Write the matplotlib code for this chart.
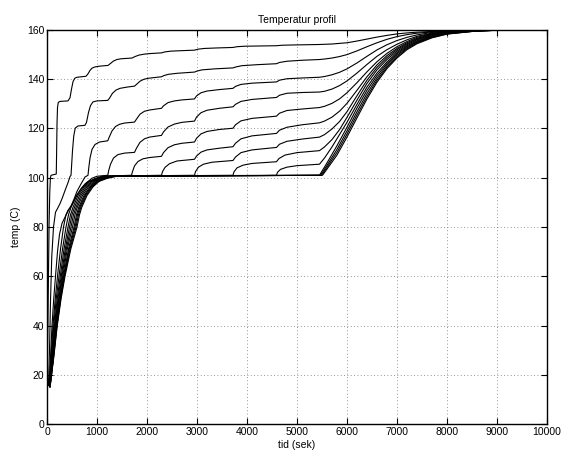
#!/usr/bin/env python3
"""Temperature profile plot (Temperatur profil).

Each curve is one node in the material; values are read off the
reference figure as (time [s], temperature [C]) pairs.
"""

import matplotlib
matplotlib.use("Agg")
import matplotlib.pyplot as plt

# --- data: (tid [sek], temp [C]) ---
CURVE_1 = [(0, 18), (8, 24), (18, 40), (30, 62), (42, 82), (55, 94), (68, 100),
           (80, 101), (185, 101.5), (192, 110), (200, 122), (210, 128.5),
           (225, 130.6), (260, 131), (420, 131.2), (460, 132.5), (490, 136),
           (520, 139), (555, 140.4), (600, 140.8), (780, 141.2), (820, 142.2),
           (860, 143.6), (900, 144.5), (960, 145), (1050, 145.3), (1220, 145.6),
           (1270, 146.4), (1330, 147.4), (1400, 148), (1480, 148.3),
           (1700, 148.6), (1760, 149.2), (1840, 149.8), (1950, 150.2),
           (2050, 150.4), (2290, 150.7), (2360, 151.1), (2480, 151.4),
           (2700, 151.6), (2950, 151.8), (3020, 152.2), (3150, 152.5),
           (3400, 152.7), (3720, 152.9), (3800, 153.2), (3950, 153.4),
           (4590, 153.6), (4700, 153.8), (4900, 153.9), (5450, 154.1),
           (5700, 154.3), (6000, 154.8), (6200, 155.5), (6400, 156.3),
           (6600, 157.1), (6800, 157.8), (7000, 158.4), (7200, 158.8),
           (7400, 159.1), (7700, 159.4), (8000, 159.6), (8500, 159.8),
           (9000, 160), (10000, 160)]
CURVE_2 = [(0, 18), (30, 16.5), (50, 30), (70, 50), (95, 68), (130, 80),
           (170, 86), (210, 87.5), (260, 89.5), (310, 92), (360, 94.8),
           (420, 98), (460, 100.5), (480, 101), (492, 105), (510, 111),
           (535, 117), (565, 120.2), (620, 121), (760, 121.3), (790, 122.5),
           (830, 126.5), (870, 129.3), (920, 130.8), (1000, 131.2),
           (1215, 131.4), (1250, 132.3), (1310, 134.3), (1380, 135.6),
           (1460, 136.3), (1600, 136.8), (1750, 137.2), (1790, 137.9),
           (1860, 139.2), (1940, 140), (2030, 140.4), (2290, 141),
           (2340, 141.5), (2430, 142), (2600, 142.4), (2950, 142.9),
           (3000, 143.3), (3100, 143.8), (3350, 144.2), (3720, 144.6),
           (3780, 145), (3900, 145.5), (4200, 145.9), (4590, 146.3),
           (4650, 146.8), (4800, 147.3), (5100, 147.7), (5450, 148),
           (5550, 148.2), (5700, 148.6), (5850, 149.2), (6000, 150),
           (6200, 151.5), (6400, 153.2), (6600, 154.8), (6800, 156.2),
           (7000, 157.3), (7200, 158.1), (7400, 158.7), (7700, 159.2),
           (8000, 159.5), (8500, 159.8), (9000, 160), (10000, 160)]
CURVE_3 = [(0, 18), (40, 16), (70, 27), (100, 40), (135, 51), (170, 60),
           (210, 70), (250, 77), (300, 81.5), (360, 84), (430, 86.8),
           (490, 89), (540, 91.3), (600, 94.5), (680, 97.5), (760, 100.3),
           (820, 101), (835, 104), (860, 108), (900, 111.5), (960, 113.5),
           (1050, 114.5), (1215, 115), (1245, 116.5), (1300, 119),
           (1370, 120.8), (1450, 121.7), (1550, 122.2), (1750, 122.6),
           (1790, 123.8), (1860, 125.8), (1950, 127), (2050, 127.5),
           (2290, 128.2), (2330, 129.2), (2420, 130.5), (2550, 131.2),
           (2700, 131.6), (2950, 132), (2990, 133.2), (3080, 134.5),
           (3200, 135.2), (3450, 135.8), (3720, 136.3), (3770, 137.1),
           (3880, 137.9), (4100, 138.4), (4590, 138.9), (4650, 139.6),
           (4800, 140.2), (5100, 140.5), (5450, 140.8), (5550, 141.1),
           (5700, 141.8), (5850, 142.8), (6000, 144.2), (6200, 146.6),
           (6400, 149.3), (6600, 151.9), (6800, 154), (7000, 155.7),
           (7200, 157), (7400, 158), (7700, 159), (8000, 159.4),
           (8500, 159.8), (9000, 160), (10000, 160)]
CURVE_4 = [(0, 18), (40, 15.5), (80, 27), (120, 40), (165, 51), (210, 60),
           (270, 71), (330, 80), (380, 85), (420, 86.8), (480, 88.2),
           (530, 90), (600, 93), (680, 95.5), (760, 97.5), (820, 98.5),
           (900, 99.8), (1000, 100.6), (1215, 101), (1235, 103), (1270, 105.5),
           (1330, 108), (1420, 109.4), (1550, 110), (1750, 110.3),
           (1790, 112), (1860, 114.4), (1950, 115.8), (2050, 116.5),
           (2290, 117.2), (2330, 118.6), (2420, 120.6), (2550, 121.8),
           (2700, 122.5), (2950, 123), (2990, 124.6), (3080, 126.4),
           (3200, 127.4), (3450, 128.2), (3720, 128.8), (3770, 129.8),
           (3880, 131), (4100, 131.8), (4590, 132.6), (4650, 133.5),
           (4800, 134.3), (5100, 134.6), (5450, 134.8), (5550, 135.1),
           (5700, 136), (5850, 137.4), (6000, 139.3), (6200, 142.5),
           (6400, 146), (6600, 149.3), (6800, 152), (7000, 154.2),
           (7200, 156), (7400, 157.4), (7700, 158.7), (8000, 159.3),
           (8500, 159.8), (9000, 160), (10000, 160)]
CURVE_5 = [(0, 18), (45, 15.5), (90, 27), (135, 40), (185, 51), (240, 60),
           (310, 71), (380, 80), (430, 85), (480, 88), (580, 92.5), (700, 96),
           (820, 98.3), (950, 99.6), (1100, 100.6), (1690, 101),
           (1710, 102.5), (1750, 104.8), (1820, 106.6), (1920, 107.7),
           (2050, 108.2), (2290, 108.7), (2330, 110.2), (2420, 112.2),
           (2550, 113.4), (2700, 114), (2950, 114.5), (2990, 116),
           (3080, 117.8), (3200, 118.8), (3450, 119.6), (3720, 120.1),
           (3770, 121.5), (3880, 123.1), (4100, 124.1), (4590, 125),
           (4650, 126.2), (4800, 127.3), (5100, 127.9), (5450, 128.5),
           (5550, 129), (5700, 130.2), (5850, 132), (6000, 134.5),
           (6200, 138.6), (6400, 143), (6600, 147.1), (6800, 150.5),
           (7000, 153.2), (7200, 155.3), (7400, 157), (7700, 158.5),
           (8000, 159.2), (8500, 159.8), (9000, 160), (10000, 160)]
CURVE_6 = [(0, 18), (50, 15.5), (100, 27), (150, 40), (205, 51), (265, 60),
           (340, 71), (420, 80), (470, 85), (520, 88), (620, 92.8),
           (740, 96.3), (860, 98.5), (1000, 99.8), (1150, 100.6), (2290, 101),
           (2310, 102.5), (2360, 104.2), (2450, 105.7), (2600, 106.8),
           (2950, 107.5), (2990, 108.8), (3080, 110.4), (3200, 111.3),
           (3450, 112), (3720, 112.6), (3770, 114), (3880, 115.8),
           (4100, 117), (4590, 118), (4650, 119.3), (4800, 120.5),
           (5100, 121.5), (5450, 122.3), (5550, 123), (5700, 124.6),
           (5850, 127), (6000, 130.2), (6200, 135.5), (6400, 141),
           (6600, 145.8), (6800, 149.6), (7000, 152.5), (7200, 154.8),
           (7400, 156.6), (7700, 158.3), (8000, 159.1), (8500, 159.7),
           (9000, 160), (10000, 160)]
CURVE_7 = [(0, 18), (50, 15.5), (105, 27), (160, 40), (220, 51), (285, 60),
           (365, 71), (450, 80), (500, 85), (550, 88), (650, 92.8),
           (770, 96.3), (890, 98.5), (1030, 99.8), (1180, 100.6), (2950, 101),
           (2970, 102.5), (3030, 104.3), (3130, 105.5), (3300, 106.3),
           (3720, 107), (3770, 108.4), (3880, 110.2), (4100, 111.3),
           (4590, 112.3), (4650, 113.6), (4800, 114.8), (5100, 115.7),
           (5450, 116.5), (5550, 117.5), (5700, 119.8), (5850, 122.8),
           (6000, 126.8), (6200, 133.3), (6400, 139.6), (6600, 144.8),
           (6800, 148.8), (7000, 152), (7200, 154.4), (7400, 156.3),
           (7700, 158.1), (8000, 159), (8500, 159.7), (9000, 160),
           (10000, 160)]
CURVE_8 = [(0, 18), (55, 15.5), (110, 27), (170, 40), (235, 51), (300, 60),
           (385, 71), (480, 80), (530, 85), (580, 88), (680, 92.8),
           (800, 96.3), (920, 98.5), (1060, 99.8), (1220, 100.6), (3720, 101),
           (3740, 102.4), (3800, 104), (3920, 105.1), (4100, 105.8),
           (4590, 106.5), (4640, 107.8), (4760, 109.2), (5000, 110.2),
           (5450, 111), (5550, 112.5), (5700, 115.5), (5850, 119.5),
           (6000, 124.5), (6200, 131.5), (6400, 138.3), (6600, 143.8),
           (6800, 148), (7000, 151.4), (7200, 154), (7400, 156),
           (7700, 157.9), (8000, 158.9), (8500, 159.6), (9000, 160),
           (10000, 160)]
CURVE_9 = [(0, 18), (55, 15.5), (115, 27), (180, 40), (245, 51), (315, 60),
           (405, 71), (510, 80), (560, 85), (605, 88), (710, 92.8),
           (830, 96.3), (950, 98.5), (1090, 99.8), (1260, 100.6), (4590, 101),
           (4610, 102.2), (4670, 103.4), (4800, 104.3), (5000, 104.9),
           (5450, 105.5), (5550, 108), (5700, 112.5), (5850, 117.5),
           (6000, 122.5), (6200, 129.8), (6400, 136.8), (6600, 142.5),
           (6800, 147), (7000, 150.8), (7200, 153.6), (7400, 155.6),
           (7700, 157.7), (8000, 158.8), (8500, 159.6), (9000, 160),
           (10000, 160)]
CURVE_10 = [(0, 18), (60, 15), (125, 27), (190, 40), (260, 51), (330, 60),
            (430, 71), (540, 80), (590, 85), (635, 88), (740, 92.8),
            (860, 96.3), (980, 98.5), (1120, 99.8), (1300, 100.6),
            (5450, 101), (5600, 106), (5800, 113), (6000, 120.5),
            (6200, 128.3), (6400, 135.5), (6600, 141.5), (6800, 146.3),
            (7000, 150.3), (7200, 153.2), (7400, 155.3), (7700, 157.4),
            (8000, 158.6), (8500, 159.5), (9000, 159.9), (10000, 160)]
CURVE_11 = [(0, 18), (60, 15), (128, 27), (195, 40), (267, 51), (340, 60),
            (445, 71), (560, 80), (610, 85), (655, 88), (760, 92.8),
            (880, 96.3), (1000, 98.5), (1150, 99.8), (1330, 100.6),
            (5470, 101), (5600, 105), (5800, 111.5), (6000, 119),
            (6200, 126.8), (6400, 134.2), (6600, 140.5), (6800, 145.6),
            (7000, 149.7), (7200, 152.8), (7400, 155), (7700, 157.2),
            (8000, 158.5), (8500, 159.4), (9000, 159.9), (10000, 160)]
CURVE_12 = [(0, 18), (60, 15), (131, 27), (200, 40), (275, 51), (350, 60),
            (460, 71), (580, 80), (630, 85), (675, 88), (780, 92.8),
            (900, 96.3), (1020, 98.5), (1180, 99.8), (1360, 100.6),
            (5490, 101), (5600, 104.2), (5800, 110.3), (6000, 117.7),
            (6200, 125.5), (6400, 133), (6600, 139.6), (6800, 144.9),
            (7000, 149.1), (7200, 152.4), (7400, 154.7), (7700, 157),
            (8000, 158.4), (8500, 159.4), (9000, 159.9), (10000, 160)]
CURVE_13 = [(0, 18), (60, 15), (134, 27), (205, 40), (282, 51), (360, 60),
            (475, 71), (600, 80), (650, 85), (695, 88), (800, 92.8),
            (920, 96.3), (1040, 98.5), (1210, 99.8), (1400, 100.6),
            (5510, 101), (5600, 103.5), (5800, 109.2), (6000, 116.5),
            (6200, 124.3), (6400, 132), (6600, 138.8), (6800, 144.3),
            (7000, 148.6), (7200, 152), (7400, 154.4), (7700, 156.8),
            (8000, 158.3), (8500, 159.4), (9000, 159.9), (10000, 160)]

CURVES = [CURVE_1, CURVE_2, CURVE_3, CURVE_4, CURVE_5, CURVE_6, CURVE_7,
          CURVE_8, CURVE_9, CURVE_10, CURVE_11, CURVE_12, CURVE_13]

X_TICKS = list(range(0, 10001, 1000))
Y_TICKS = list(range(0, 161, 20))


def main() -> None:
    plt.rcParams["font.family"] = ["Liberation Sans", "DejaVu Sans"]
    plt.rcParams["font.size"] = 7.5

    fig = plt.figure(figsize=(5.63, 4.54), dpi=100)
    ax = fig.add_axes([0.0835, 0.066, 0.888, 0.868])

    for curve in CURVES:
        t = [p[0] for p in curve]
        temp = [p[1] for p in curve]
        ax.plot(t, temp, color="black", linewidth=0.8)

    ax.set_xlim(0, 10000)
    ax.set_ylim(0, 160)
    ax.set_xticks(X_TICKS)
    ax.set_yticks(Y_TICKS)
    ax.tick_params(direction="in", top=True, right=True, length=4, width=0.8,
                   pad=2)
    ax.grid(True, linestyle=(0, (1, 3)), color="0.45", linewidth=0.6)
    for spine in ax.spines.values():
        spine.set_linewidth(1.0)

    ax.set_title("Temperatur profil", fontsize=7.5, pad=5)
    ax.set_xlabel("tid (sek)", labelpad=2)
    ax.set_ylabel("temp (C)", labelpad=4)

    fig.savefig("out.png", dpi=100)


if __name__ == "__main__":
    main()
